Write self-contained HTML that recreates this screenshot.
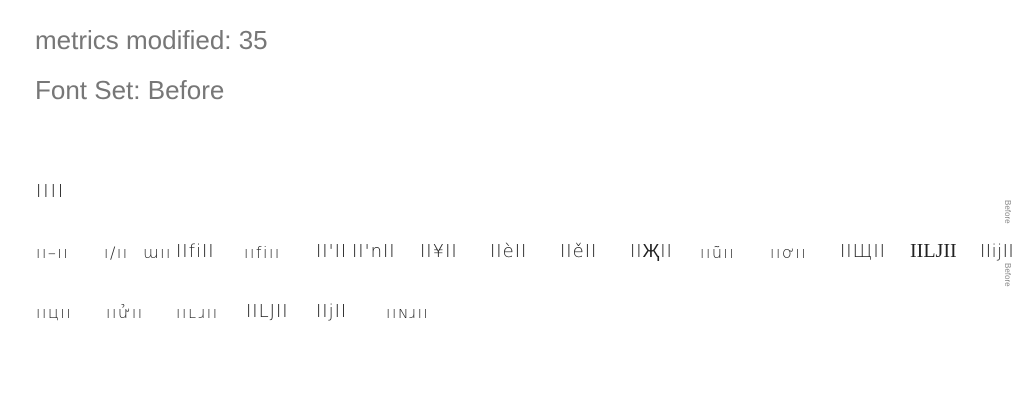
<!DOCTYPE html>
<html><head><meta charset="utf-8"><style>
body{margin:0;width:1024px;height:420px;background:#fff;position:relative;overflow:hidden;font-family:"Liberation Sans","DejaVu Sans",sans-serif}
.h{position:absolute;left:35px;font-size:26px;color:#777;line-height:30px}
.g{position:absolute;font-size:18px;color:#222;line-height:20px;white-space:nowrap;font-family:"DejaVu Sans","Liberation Sans",sans-serif;letter-spacing:1px;font-weight:300}
.s{font-size:16px;letter-spacing:1.5px}
.v{position:absolute;font-size:8px;color:#888;transform:rotate(90deg);transform-origin:left top;white-space:nowrap}
</style></head><body>
<div class="h" style="top:25px">metrics modified: 35</div>
<div class="h" style="top:75px">Font Set: Before</div>
<div class="g" style="left:36px;top:182px;letter-spacing:2px">IIII</div>
<div>
<span class="g s" style="left:36px;top:243px">ıı–ıı</span>
<span class="g s" style="left:104px;top:243px">ı/ıı</span>
<span class="g s" style="left:143px;top:243px">ɯıı</span>
<span class="g" style="left:176px;top:242px">IIfiII</span>
<span class="g s" style="left:244px;top:243px">ııfiıı</span>
<span class="g" style="left:316px;top:242px">II'II</span>
<span class="g" style="left:352px;top:242px">II'nII</span>
<span class="g" style="left:420px;top:242px">II¥II</span>
<span class="g" style="left:490px;top:242px">IIèII</span>
<span class="g" style="left:560px;top:242px">IIěII</span>
<span class="g" style="left:630px;top:242px">IIҖII</span>
<span class="g s" style="left:700px;top:243px">ııũıı</span>
<span class="g s" style="left:770px;top:243px">ııơıı</span>
<span class="g" style="left:840px;top:242px">IIЩII</span>
<span class="g" style="left:910px;top:241px;font-family:'Liberation Serif',serif;font-size:20px;letter-spacing:0">IILJII</span>
<span class="g" style="left:980px;top:242px;letter-spacing:0.5px">IIijII</span>
</div>
<div>
<span class="g s" style="left:36px;top:303px">ııцıı</span>
<span class="g s" style="left:106px;top:303px">ııửıı</span>
<span class="g s" style="left:176px;top:303px">ııʟɹıı</span>
<span class="g" style="left:246px;top:302px">IILJII</span>
<span class="g" style="left:316px;top:302px">IIjII</span>
<span class="g s" style="left:386px;top:303px">ııɴɹıı</span>
</div>
<div class="v" style="left:1012px;top:200px">Before</div>
<div class="v" style="left:1012px;top:263px">Before</div>
</body></html>
